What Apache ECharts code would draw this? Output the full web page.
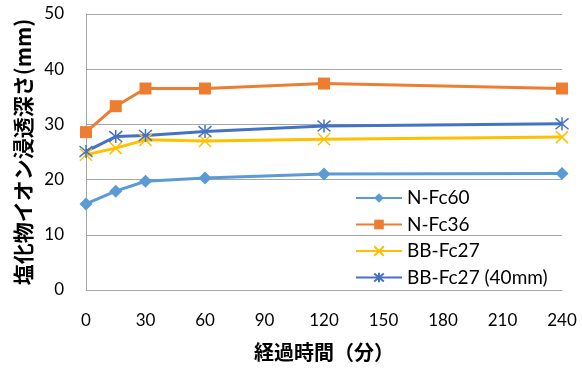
<!DOCTYPE html>
<html><head><meta charset="utf-8">
<script src="https://cdn.jsdelivr.net/npm/echarts@6/dist/echarts.min.js"></script>
<style>html,body{margin:0;padding:0;background:#fff}#c{width:582px;height:374px}</style>
</head><body><div id="c"></div>
<script>
const times = [0, 15, 30, 60, 120, 240];
const seriesNames = ['N-Fc60', 'N-Fc36', 'BB-Fc27', 'BB-Fc27 (40mm)'];
const nFc60 = [15.6, 17.9, 19.7, 20.3, 21.0, 21.1];
const nFc36 = [28.6, 33.3, 36.5, 36.5, 37.4, 36.5];
const bbFc27 = [24.5, 25.7, 27.2, 27.0, 27.3, 27.7];
const bbFc27_40 = [25.1, 27.8, 28.0, 28.7, 29.7, 30.1];
const xTicks = [0, 30, 60, 90, 120, 150, 180, 210, 240];
const yTicks = [0, 10, 20, 30, 40, 50];

const font = 'Lato, "Open Sans", "Noto Sans", sans-serif';
const jpFont = '"Noto Sans CJK JP", sans-serif';
const pairs = v => times.map((t, i) => [t, v[i]]);
const crossPath = 'path://M0,0L10,10M10,0L0,10';
const starPath = 'path://M0,0L10,10M10,0L0,10M5,-1L5,11';

const chart = echarts.init(document.getElementById('c'));
chart.setOption({
  animation: false,
  backgroundColor: '#fff',
  grid: {left: 86, right: 20, top: 14, bottom: 84},
  xAxis: {
    type: 'value', min: xTicks[0], max: xTicks[xTicks.length - 1], interval: 30,
    axisLine: {lineStyle: {color: '#a6a6a6', width: 1}},
    axisTick: {show: false},
    splitLine: {show: false},
    axisLabel: {color: '#000', fontSize: 17, fontFamily: font, margin: 22},
    name: '経過時間（分）', nameLocation: 'middle', nameGap: 52,
    nameTextStyle: {color: '#000', fontSize: 20, fontWeight: 'bold', fontFamily: jpFont}
  },
  yAxis: {
    type: 'value', min: yTicks[0], max: yTicks[yTicks.length - 1], interval: 10,
    axisLine: {show: true, lineStyle: {color: '#a6a6a6', width: 1}},
    axisTick: {show: false},
    splitLine: {lineStyle: {color: '#a6a6a6', width: 1}},
    axisLabel: {color: '#000', fontSize: 17, fontFamily: font, margin: 22},
    name: '塩化物イオン浸透深さ(mm)', nameLocation: 'middle', nameGap: 52,
    nameTextStyle: {color: '#000', fontSize: 21, fontWeight: 'bold', fontFamily: jpFont}
  },
  legend: {
    orient: 'vertical', left: 350, top: 183,
    itemWidth: 46, itemHeight: 12, itemGap: 6.5,
    textStyle: {color: '#000', fontSize: 19, lineHeight: 20, fontFamily: font},
    data: seriesNames
  },
  series: [
    {name: seriesNames[0], type: 'line', data: pairs(nFc60), symbol: 'diamond', symbolSize: 13,
     lineStyle: {color: '#5B9BD5', width: 3}, itemStyle: {color: '#5B9BD5'}},
    {name: seriesNames[1], type: 'line', data: pairs(nFc36), symbol: 'rect', symbolSize: 12,
     lineStyle: {color: '#ED7D31', width: 3}, itemStyle: {color: '#ED7D31'}},
    {name: seriesNames[2], type: 'line', data: pairs(bbFc27), symbol: crossPath, symbolSize: 12,
     lineStyle: {color: '#FFC000', width: 3}, itemStyle: {color: '#FFC000', borderColor: '#FFC000', borderWidth: 1.5}},
    {name: seriesNames[3], type: 'line', data: pairs(bbFc27_40), symbol: starPath, symbolSize: 13,
     lineStyle: {color: '#4472C4', width: 3}, itemStyle: {color: '#4472C4', borderColor: '#4472C4', borderWidth: 1.5}}
  ]
});
</script></body></html>
